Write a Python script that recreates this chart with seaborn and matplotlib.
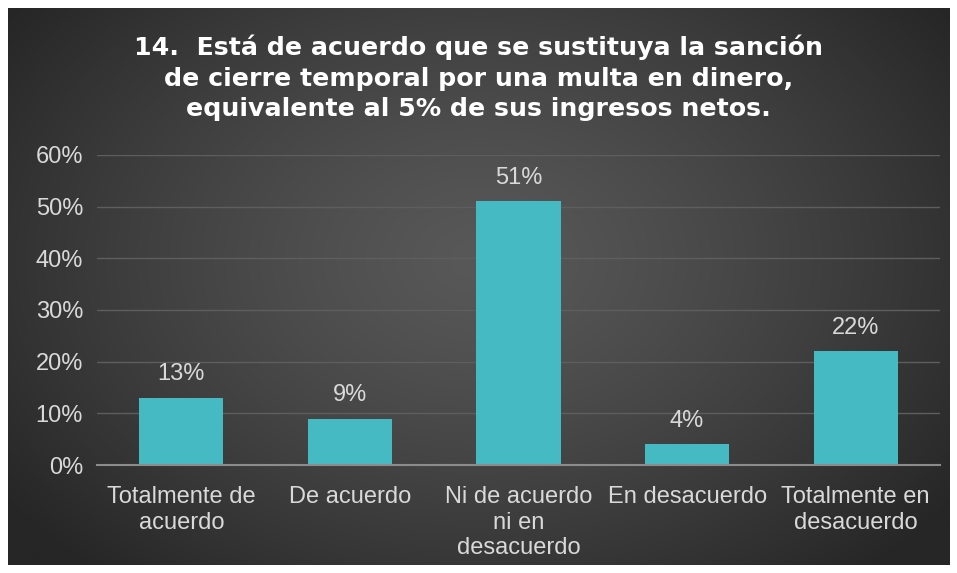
import numpy as np
import pandas as pd
import matplotlib
matplotlib.use("Agg")
import matplotlib.pyplot as plt
import seaborn as sns

categories = ["Totalmente de\nacuerdo", "De acuerdo", "Ni de acuerdo\nni en\ndesacuerdo",
              "En desacuerdo", "Totalmente en\ndesacuerdo"]
values = [0.13, 0.09, 0.51, 0.04, 0.22]
labels = ["13%", "9%", "51%", "4%", "22%"]
yticks = [0, 0.1, 0.2, 0.3, 0.4, 0.5, 0.6]
ytick_labels = ["0%", "10%", "20%", "30%", "40%", "50%", "60%"]
title = ("14.  Está de acuerdo que se sustituya la sanción\n"
         "de cierre temporal por una multa en dinero,\n"
         "equivalente al 5% de sus ingresos netos.")

sns.set_theme(style="white")
plt.rcParams['font.family'] = ['Liberation Sans', 'DejaVu Sans']

W, H = 957, 573
fig = plt.figure(figsize=(W / 100, H / 100), dpi=100)
fig.patch.set_facecolor("white")

# background gradient panel
bx0, by0, bx1, by1 = 8, 8, 950, 565
bg = fig.add_axes([bx0 / W, 1 - by1 / H, (bx1 - bx0) / W, (by1 - by0) / H])
ny, nx = 300, 500
yy, xx = np.mgrid[0:ny, 0:nx]
cx, cy = nx * 0.5, ny * 0.45
r = np.sqrt(((xx - cx) / (nx * 0.62)) ** 2 + ((yy - cy) / (ny * 0.75)) ** 2)
r = np.clip(r, 0, 1)
c_in, c_out = 0x58, 0x26
val = (c_in + (c_out - c_in) * r ** 1.3) / 255.0
img = np.dstack([val, val, val])
bg.imshow(img, aspect="auto", extent=[0, 1, 0, 1], interpolation="bilinear")
bg.set_axis_off()

ax = fig.add_axes([97 / W, 1 - 465 / H, (940 - 97) / W, (465 - 155) / H])
ax.patch.set_alpha(0)

df = pd.DataFrame({"cat": categories, "val": values})
sns.barplot(data=df, x="cat", y="val", color="#45BAC3", saturation=1, width=0.5,
            linewidth=0, edgecolor="none", ax=ax, zorder=3)

fs = 17
ax.set_ylim(0, 0.6)
ax.set_yticks(yticks)
ax.set_yticklabels(ytick_labels, color="#D9D9D9", fontsize=fs)
ax.tick_params(axis="y", length=0, pad=10)
ax.tick_params(axis="x", length=0, pad=15, colors="#D9D9D9", labelsize=fs)
for t in ax.get_xticklabels():
    t.set_linespacing(1.22)
ax.set_xlabel("")
ax.set_ylabel("")
ax.set_xlim(-0.5, 4.5)
for s in ["top", "right", "left"]:
    ax.spines[s].set_visible(False)
ax.spines["bottom"].set_color("#8C8C8C")
ax.spines["bottom"].set_linewidth(1.5)
ax.spines["bottom"].set_zorder(4)
for y in yticks[1:]:
    ax.axhline(y, color="#5E5E5E", lw=1.0, zorder=1)

for i, (v, lab) in enumerate(zip(values, labels)):
    ax.text(i, v + 0.024, lab, ha="center", va="bottom", color="#D9D9D9", fontsize=fs)

fig.text(0.5, 1 - 78 / H, title, ha="center", va="center", color="white",
         fontsize=18.2, fontweight="bold", linespacing=1.33,
         family=["DejaVu Sans"])

fig.savefig("out.png", dpi=100, facecolor=fig.get_facecolor())
